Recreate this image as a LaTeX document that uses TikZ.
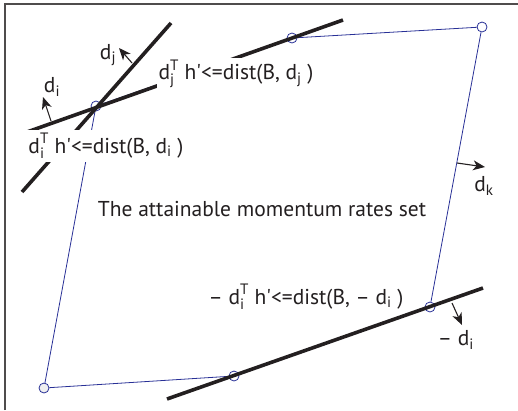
\documentclass[tikz,border=0pt]{standalone}
\usepackage{amsmath}
\usepackage{fontspec}
\setmainfont{PT Sans}
\usepackage{tikz}
\usetikzlibrary{arrows.meta}

\definecolor{edgeblue}{RGB}{40,48,150}
\definecolor{ink}{RGB}{35,31,32}

\begin{document}
\begin{tikzpicture}[x=1pt,y=-1pt,
  v/.style={draw=edgeblue,circle,minimum size=10pt,inner sep=0pt,line width=0.8pt},
  e/.style={draw=edgeblue,line width=0.8pt},
  c/.style={draw=ink,line width=3.6pt},
  a/.style={-{Stealth[length=12pt,width=10pt,inset=3.5pt]},line width=1.1pt,draw=ink},
  t/.style={text=ink,font=\fontsize{21.5}{25}\selectfont,inner sep=2pt},
  lb/.style={t,fill=white,minimum height=32pt}
]
\useasboundingbox (0,0) rectangle (518,410);
\draw[ink!80,line width=1.5pt] (5,410) -- (5,4) -- (518,4);

% vertices of the set
\node[v] (p1) at (96,106) {};
\node[v] (p2) at (292,38) {};
\node[v,fill=white] (p3) at (482,27) {};
\node[v] (p4) at (430,307) {};
\node[v] (p5) at (234,376) {};
\node[v,fill=gray!12] (p6) at (44,388) {};
\draw[e] (p1)--(p2)--(p3)--(p4)--(p5)--(p6)--(p1);

% constraint lines
\coordinate (i1) at (27,132);  \coordinate (i2) at (343,20);
\coordinate (j1) at (22,192);  \coordinate (j2) at (171,23);
\coordinate (m1) at (167,399); \coordinate (m2) at (483,288);
\draw[c](i1)--(i2);\draw[c](j1)--(j2);\draw[c](m1)--(m2);

% normals
\coordinate (ai) at (51,121);  \coordinate (bi) at (43,97);
\coordinate (aj) at (132,63);  \coordinate (bj) at (119,48);
\coordinate (ak) at (457,163); \coordinate (bk) at (485,167);
\coordinate (am) at (452,303); \coordinate (bm) at (462,325);
\draw[a](ai)--(bi);\draw[a](aj)--(bj);\draw[a](ak)--(bk);\draw[a](am)--(bm);

\node[t] (ni) at (52,87)   {d$_{\text{i}}$};
\node[t] (nj) at (108,55)  {d$_{\text{j}}$};
\node[t] (nk) at (484,186) {d$_{\text{k}}$};
\node[t] (nm) at (456,340) {\textendash\ d$_{\text{i}}$};

\node[lb] (li) at (106,146) {$\text{d}^{\text{T}}_{\text{i}}$ h\textquotesingle<=dist(B, d$_{\text{i}}$ )};
\node[lb] (lj) at (236,74)  {$\text{d}^{\text{T}}_{\text{j}}$ h\textquotesingle<=dist(B, d$_{\text{j}}$ )};
\node[t]  (lm) at (306,297) {\textendash\ $\text{d}^{\text{T}}_{\text{i}}$ h\textquotesingle<=dist(B, \textendash\ d$_{\text{i}}$ )};
\node[t]  (set) at (262,209) {The attainable momentum rates set};
\end{tikzpicture}
\end{document}
